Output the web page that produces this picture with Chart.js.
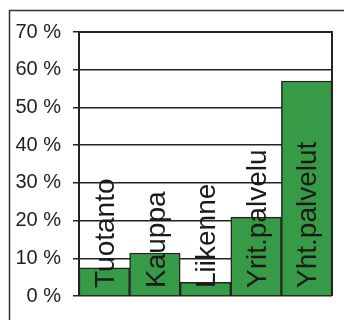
<!DOCTYPE html>
<html>
<head>
<meta charset="utf-8">
<script src="https://cdn.jsdelivr.net/npm/chart.js@4"></script>
<style>
  html, body { margin: 0; padding: 0; background: #fff; }
  #wrap { width: 344px; height: 320px; position: relative; }
</style>
</head>
<body>
<div id="wrap"><canvas id="chart" width="344" height="320"></canvas></div>
<script>
const toimialat = ['Tuotanto', 'Kauppa', 'Liikenne', 'Yrit.palvelu', 'Yht.palvelut'];
const osuudet = [7.5, 11.4, 3.6, 20.9, 57.0];
const yTicks = [0, 10, 20, 30, 40, 50, 60, 70];

const lineColor = '#222';
const barColor = '#379a47';
const fontFamily = '"Liberation Sans", Arial, sans-serif';

// outer frame and plot frame (top + right)
const framePlugin = {
    id: 'frame',
    afterDraw(chart) {
        const ctx = chart.ctx;
        const a = chart.chartArea;
        ctx.save();
        ctx.strokeStyle = '#333';
        ctx.lineWidth = 1.5;
        ctx.beginPath();
        ctx.moveTo(9.5, 320);
        ctx.lineTo(9.5, 10.5);
        ctx.lineTo(344, 10.5);
        ctx.stroke();
        ctx.strokeStyle = lineColor;
        ctx.lineWidth = 2;
        ctx.beginPath();
        ctx.moveTo(a.left, a.top);
        ctx.lineTo(a.right, a.top);
        ctx.lineTo(a.right, a.bottom);
        ctx.stroke();
        ctx.restore();
    }
};

// rotated category labels inside bars
const labelPlugin = {
    id: 'barLabels',
    afterDatasetsDraw(chart) {
        const ctx = chart.ctx;
        const meta = chart.getDatasetMeta(0);
        const bottom = chart.chartArea.bottom;
        ctx.save();
        ctx.fillStyle = '#1a1a1a';
        ctx.font = '28px ' + fontFamily;
        ctx.textAlign = 'left';
        ctx.textBaseline = 'middle';
        meta.data.forEach((bar, i) => {
            ctx.save();
            ctx.translate(bar.x + 2, bottom - 8);
            ctx.rotate(-Math.PI / 2);
            ctx.fillText(toimialat[i], 0, 0);
            ctx.restore();
        });
        ctx.restore();
    }
};

new Chart(document.getElementById('chart').getContext('2d'), {
    type: 'bar',
    data: {
        labels: toimialat,
        datasets: [{
            data: osuudet,
            backgroundColor: barColor,
            borderColor: lineColor,
            borderWidth: 1.5,
            categoryPercentage: 1,
            barPercentage: 1
        }]
    },
    options: {
        responsive: false,
        animation: false,
        layout: { padding: { left: 0, top: 32, right: 12, bottom: 17 } },
        plugins: { legend: { display: false }, tooltip: { enabled: false } },
        scales: {
            x: { display: false },
            y: {
                min: 0,
                max: 70,
                afterFit(scale) { scale.width = 79; },
                afterBuildTicks(scale) { scale.ticks = yTicks.map(v => ({ value: v })); },
                grid: { color: lineColor, lineWidth: 1.5, tickLength: 6 },
                border: { color: lineColor, width: 2 },
                ticks: {
                    padding: 12,
                    color: '#222',
                    font: { family: fontFamily, size: 20 },
                    callback: v => v + ' %'
                }
            }
        }
    },
    plugins: [framePlugin, labelPlugin]
});
</script>
</body>
</html>
